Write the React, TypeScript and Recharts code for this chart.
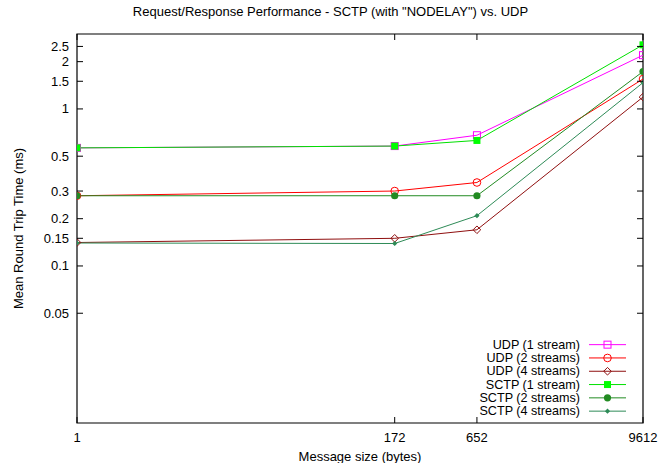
import React from 'react';
import { LineChart, Line, XAxis, YAxis, Legend, ReferenceArea } from 'recharts';

const messageSizes = [1, 172, 652, 9612];
const xTicks = [1, 172, 652, 9612];
const yTicks = [0.05, 0.1, 0.15, 0.2, 0.3, 0.5, 1, 1.5, 2, 2.5];

const udp1 = [0.565, 0.58, 0.68, 2.2];
const udp2 = [0.28, 0.3, 0.34, 1.55];
const udp4 = [0.141, 0.15, 0.17, 1.19];
const sctp1 = [0.565, 0.58, 0.63, 2.56];
const sctp2 = [0.28, 0.28, 0.28, 1.73];
const sctp4 = [0.14, 0.139, 0.209, 1.47];

const W = 659;
const H = 463;
const PLOT = { left: 77, right: 643, top: 34, bottom: 423 };
const FONT = '"Liberation Sans", Arial, Helvetica, sans-serif';

type Shape = 'openSquare' | 'square' | 'openCircle' | 'circle' | 'openDiamond' | 'smallDiamond';

interface SeriesDef {
  key: string;
  name: string;
  color: string;
  shape: Shape;
  values: number[];
}

const series: SeriesDef[] = [
  { key: 'udp1', name: 'UDP (1 stream)', color: '#ff00ff', shape: 'openSquare', values: udp1 },
  { key: 'udp2', name: 'UDP (2 streams)', color: '#ff0000', shape: 'openCircle', values: udp2 },
  { key: 'udp4', name: 'UDP (4 streams)', color: '#8f0f0f', shape: 'openDiamond', values: udp4 },
  { key: 'sctp1', name: 'SCTP (1 stream)', color: '#00e000', shape: 'square', values: sctp1 },
  { key: 'sctp2', name: 'SCTP (2 streams)', color: '#228b22', shape: 'circle', values: sctp2 },
  { key: 'sctp4', name: 'SCTP (4 streams)', color: '#2e8b57', shape: 'smallDiamond', values: sctp4 },
];

const data = messageSizes.map((x, i) => {
  const row: Record<string, number> = { x };
  series.forEach((s) => {
    row[s.key] = s.values[i];
  });
  return row;
});

function Marker({ cx, cy, shape, color }: { cx: number; cy: number; shape: Shape; color: string }) {
  switch (shape) {
    case 'openSquare':
      return <rect x={cx - 3.5} y={cy - 3.5} width={7} height={7} fill="none" stroke={color} strokeWidth={1} />;
    case 'square':
      return <rect x={cx - 3.5} y={cy - 3.5} width={7} height={7} fill={color === '#00e000' ? '#00ff00' : color} stroke="none" />;
    case 'openCircle':
      return <circle cx={cx} cy={cy} r={3.8} fill="none" stroke={color} strokeWidth={1} />;
    case 'circle':
      return <circle cx={cx} cy={cy} r={3.6} fill={color} stroke="none" />;
    case 'openDiamond':
      return (
        <polygon
          points={`${cx},${cy - 3.8} ${cx + 3.8},${cy} ${cx},${cy + 3.8} ${cx - 3.8},${cy}`}
          fill="none"
          stroke={color}
          strokeWidth={1}
        />
      );
    default:
      return (
        <polygon
          points={`${cx},${cy - 2.6} ${cx + 2.6},${cy} ${cx},${cy + 2.6} ${cx - 2.6},${cy}`}
          fill={color}
          stroke="none"
        />
      );
  }
}

const makeDot = (s: SeriesDef) => (props: any) => {
  const { cx, cy, index } = props;
  if (cx == null || cy == null) return <g key={`${s.key}-${index}`} />;
  return (
    <g key={`${s.key}-${index}`}>
      <Marker cx={cx} cy={cy} shape={s.shape} color={s.color} />
    </g>
  );
};

const XTick = ({ x, y, payload }: any) => (
  <g>
    <line x1={x} y1={y} x2={x} y2={y - 6} stroke="#000" />
    <line x1={x} y1={PLOT.top} x2={x} y2={PLOT.top + 6} stroke="#000" />
    <text x={x} y={y + 14} textAnchor="middle" dominantBaseline="central" fontSize={13} fontFamily={FONT} fill="#000">
      {payload.value}
    </text>
  </g>
);

const YTick = ({ x, y, payload }: any) => (
  <g>
    <line x1={x} y1={y} x2={x + 6} y2={y} stroke="#000" />
    <line x1={PLOT.right} y1={y} x2={PLOT.right - 6} y2={y} stroke="#000" />
    <text x={x - 8} y={y} textAnchor="end" dominantBaseline="central" fontSize={13} fontFamily={FONT} fill="#000">
      {payload.value}
    </text>
  </g>
);

// legend drawn in svg so each row is one text element with a fixed baseline
const ROW = 13.3;
const LegendBox = () => (
  <svg width={200} height={ROW * series.length + 2} style={{ display: 'block', overflow: 'visible' }}>
    {series.map((s, i) => {
      const cy = ROW / 2 + i * ROW;
      return (
        <g key={s.key}>
          <text
            x={150}
            y={cy}
            textAnchor="end"
            dominantBaseline="central"
            fontSize={12.6}
            fontFamily={FONT}
            fill="#000"
          >
            {s.name}
          </text>
          <line x1={159} y1={cy} x2={196} y2={cy} stroke={s.color} strokeWidth={1} />
          <Marker cx={177.5} cy={cy} shape={s.shape} color={s.color} />
        </g>
      );
    })}
  </svg>
);

export default function App() {
  return (
    <div style={{ position: 'absolute', left: 0, top: 0, width: W, height: H, background: '#fff' }}>
      <div
        style={{
          position: 'absolute',
          top: 4,
          left: 0,
          width: W + 2,
          textAlign: 'center',
          fontFamily: FONT,
          fontSize: 13,
          lineHeight: '15px',
          color: '#000',
        }}
      >
        Request/Response Performance - SCTP (with "NODELAY") vs. UDP
      </div>
      <LineChart
        width={W}
        height={H}
        data={data}
        margin={{ top: PLOT.top, right: W - PLOT.right, bottom: 0, left: 17 }}
      >
        <XAxis
          dataKey="x"
          type="number"
          scale="log"
          domain={[1, 9612]}
          ticks={xTicks}
          allowDataOverflow
          height={H - PLOT.bottom}
          tickSize={0}
          tickMargin={0}
          tickLine={false}
          axisLine={false}
          tick={<XTick />}
          interval={0}
          label={{
            content: ({ viewBox }: any) => (
              <text
                x={viewBox.x + viewBox.width / 2}
                y={viewBox.y + 33}
                textAnchor="middle"
                dominantBaseline="central"
                fontSize={13}
                fontFamily={FONT}
                fill="#000"
              >
                Message size (bytes)
              </text>
            ),
          }}
        />
        <YAxis
          type="number"
          scale="log"
          domain={[0.01, 3]}
          ticks={yTicks}
          allowDataOverflow
          width={60}
          tickSize={0}
          tickMargin={0}
          tickLine={false}
          axisLine={false}
          tick={<YTick />}
          interval={0}
          label={{
            content: ({ viewBox }: any) => {
              const cx = viewBox.x + 1;
              const cy = viewBox.y + viewBox.height / 2;
              return (
                <text
                  x={cx}
                  y={cy}
                  transform={`rotate(-90 ${cx} ${cy})`}
                  textAnchor="middle"
                  dominantBaseline="central"
                  fontSize={13}
                  fontFamily={FONT}
                  fill="#000"
                >
                  Mean Round Trip Time (ms)
                </text>
              );
            },
          }}
        />
        <ReferenceArea x1={1} x2={9612} y1={0.01} y2={3} fill="none" stroke="#000" strokeWidth={1.2} />
        {series.map((s) => (
          <Line
            key={s.key}
            dataKey={s.key}
            name={s.name}
            type="linear"
            stroke={s.color}
            strokeWidth={1}
            dot={makeDot(s)}
            activeDot={false}
            isAnimationActive={false}
          />
        ))}
        <Legend
          layout="vertical"
          align="center"
          verticalAlign="middle"
          content={<LegendBox />}
          wrapperStyle={{ position: 'absolute', left: 430, top: 338, width: 200, right: 'auto', bottom: 'auto' }}
        />
      </LineChart>
    </div>
  );
}
